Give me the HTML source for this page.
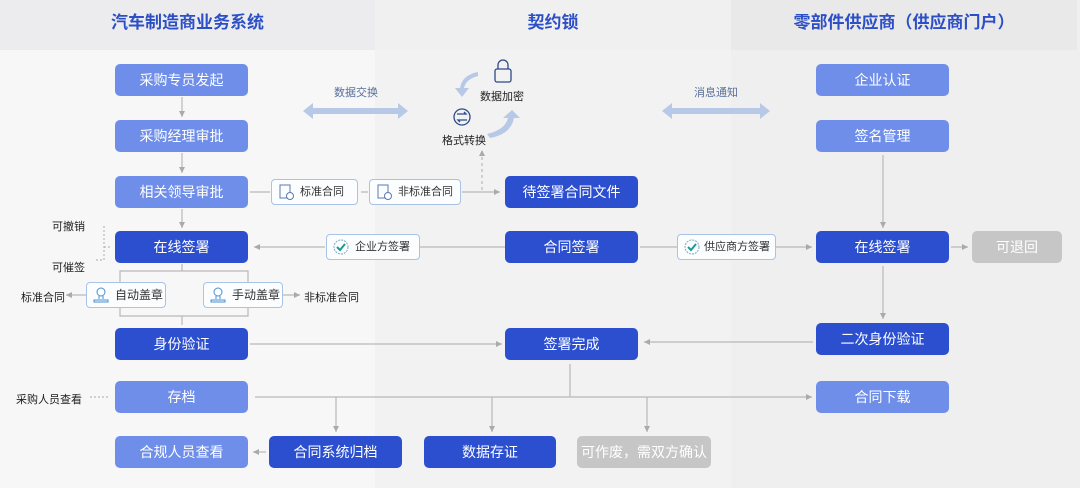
<!DOCTYPE html>
<html><head><meta charset="utf-8"><style>
*{margin:0;padding:0;box-sizing:border-box}
body{width:1080px;height:488px;position:relative;overflow:hidden;background:#f7f7f8;font-family:"Liberation Sans","Noto Sans CJK SC",sans-serif}
.col{position:absolute;top:0;height:488px}
.hd{position:absolute;top:0;height:50px;color:#2d4fc6;font-weight:bold;font-size:17px;text-align:center;line-height:46px}
.b{position:absolute;height:32px;border-radius:5px;color:#fff;font-size:14px;text-align:center;line-height:32px}
.l{background:#6e8eea}.d{background:#2c4fcf}.g{background:#c6c6c6}
.t{position:absolute;font-size:11px;color:#222;white-space:nowrap}
.tag{position:absolute;height:26px;border:1px solid #a9c3e6;border-radius:4px;background:#fbfdff;font-size:11px;color:#333;line-height:24px;padding-left:28px;white-space:nowrap}
.ic{position:absolute;left:6px;top:4px;width:16px;height:16px}
</style></head><body>
<div class="col" style="left:0;width:375px;background:#f7f7f8"></div>
<div class="col" style="left:375px;width:356px;background:#f2f2f3"></div>
<div class="col" style="left:731px;width:349px;background:#efeff0"></div>
<div class="hd" style="left:0;width:375px;background:#ececee">汽车制造商业务系统</div>
<div class="hd" style="left:375px;width:356px;background:#f0f0f1">契约锁</div>
<div class="hd" style="left:731px;width:346px;background:#e9e9ea">零部件供应商（供应商门户）</div>

<svg width="1080" height="488" style="position:absolute;left:0;top:0">
<defs><marker id="a" markerWidth="6" markerHeight="6" refX="5" refY="3" orient="auto"><path d="M0,0.5L5,3L0,5.5z" fill="#aaa"/></marker></defs>
<g stroke="#b8b8b8" stroke-width="1.2" fill="none">
<line x1="182" y1="97" x2="182" y2="117" marker-end="url(#a)"/>
<line x1="182" y1="153" x2="182" y2="173" marker-end="url(#a)"/>
<line x1="182" y1="209" x2="182" y2="228" marker-end="url(#a)"/>
<line x1="250" y1="192" x2="270" y2="192"/>
<line x1="361" y1="192" x2="368" y2="192"/>
<line x1="462" y1="192" x2="500" y2="192" marker-end="url(#a)"/>
<line x1="482" y1="190" x2="482" y2="150" stroke-dasharray="3,3" marker-end="url(#a)"/>
<line x1="325" y1="247" x2="254" y2="247" marker-end="url(#a)"/>
<line x1="420" y1="247" x2="505" y2="247"/>
<line x1="640" y1="247" x2="677" y2="247"/>
<line x1="776" y1="247" x2="812" y2="247" marker-end="url(#a)"/>
<line x1="951" y1="247" x2="968" y2="247" marker-end="url(#a)"/>
<line x1="883" y1="155" x2="883" y2="228" marker-end="url(#a)"/>
<line x1="883" y1="266" x2="883" y2="319" marker-end="url(#a)"/>
<line x1="813" y1="342" x2="644" y2="342" marker-end="url(#a)"/>
<line x1="250" y1="344" x2="502" y2="344" marker-end="url(#a)"/>
<line x1="182" y1="264" x2="182" y2="271"/>
<polyline points="120,283 120,271 248,271 248,283"/>
<polyline points="120,306 120,316 248,316 248,306"/>
<line x1="182" y1="316" x2="182" y2="325"/>
<line x1="86" y1="295" x2="66" y2="295" marker-end="url(#a)"/>
<line x1="283" y1="295" x2="300" y2="295" marker-end="url(#a)"/>
<polyline points="104,226 104,260 96,260" stroke-dasharray="2,2"/>
<line x1="104" y1="247" x2="112" y2="247" stroke-dasharray="2,2"/>
<line x1="90" y1="397" x2="110" y2="397" stroke-dasharray="2,2"/>
<line x1="255" y1="397" x2="812" y2="397" marker-end="url(#a)"/>
<line x1="570" y1="364" x2="570" y2="397"/>
<line x1="336" y1="397" x2="336" y2="432" marker-end="url(#a)"/>
<line x1="492" y1="397" x2="492" y2="432" marker-end="url(#a)"/>
<line x1="647" y1="397" x2="647" y2="432" marker-end="url(#a)"/>
<line x1="266" y1="452" x2="253" y2="452" marker-end="url(#a)"/>
</g>
<g fill="#b7c9e6">
<path d="M303,111 L313,103 L313,108 L398,108 L398,103 L408,111 L398,119 L398,114 L313,114 L313,119Z"/>
<path d="M662,111 L672,103 L672,108 L760,108 L760,103 L770,111 L760,119 L760,114 L672,114 L672,119Z"/>
<path d="M478,72 Q462,75 460,88 L455,88 L462,97 L469,88 L464,88 Q466,79 478,76Z"/>
<path d="M487,134 Q505,130 508,118 L503,118 L512,110 L520,118 L514,118 Q511,134 490,138Z"/>
</g>
<g fill="none" stroke="#2c4a86" stroke-width="1.3">
<rect x="495" y="69" width="16" height="13" rx="2"/>
<path d="M498,69 V65 a5,5 0 0 1 10,0 V69"/>
<circle cx="462" cy="117" r="8"/>
<path d="M457,114 h9 l-2,-2 M467,120 h-9 l2,2"/>
</g>
</svg>

<div class="t" style="left:334px;top:84px;color:#5a6f99">数据交换</div>
<div class="t" style="left:694px;top:84px;color:#5a6f99">消息通知</div>
<div class="t" style="left:480px;top:88px">数据加密</div>
<div class="t" style="left:442px;top:132px">格式转换</div>

<div class="b l" style="left:115px;top:64px;width:133px">采购专员发起</div>
<div class="b l" style="left:115px;top:120px;width:133px">采购经理审批</div>
<div class="b l" style="left:115px;top:176px;width:133px">相关领导审批</div>
<div class="b d" style="left:115px;top:231px;width:133px">在线签署</div>
<div class="b d" style="left:115px;top:328px;width:133px">身份验证</div>
<div class="b l" style="left:115px;top:381px;width:133px">存档</div>
<div class="b l" style="left:115px;top:436px;width:133px">合规人员查看</div>
<div class="b d" style="left:269px;top:436px;width:133px">合同系统归档</div>
<div class="b d" style="left:424px;top:436px;width:132px">数据存证</div>
<div class="b g" style="left:577px;top:436px;width:134px">可作废，需双方确认</div>
<div class="b d" style="left:505px;top:176px;width:133px">待签署合同文件</div>
<div class="b d" style="left:505px;top:231px;width:133px">合同签署</div>
<div class="b d" style="left:505px;top:328px;width:133px">签署完成</div>
<div class="b l" style="left:816px;top:64px;width:133px">企业认证</div>
<div class="b l" style="left:816px;top:120px;width:133px">签名管理</div>
<div class="b d" style="left:816px;top:231px;width:133px">在线签署</div>
<div class="b d" style="left:816px;top:323px;width:133px">二次身份验证</div>
<div class="b l" style="left:816px;top:381px;width:133px">合同下载</div>
<div class="b g" style="left:972px;top:231px;width:90px">可退回</div>

<div class="t" style="left:52px;top:218px">可撤销</div>
<div class="t" style="left:52px;top:259px">可催签</div>
<div class="t" style="left:21px;top:289px">标准合同</div>
<div class="t" style="left:304px;top:289px">非标准合同</div>
<div class="t" style="left:16px;top:391px">采购人员查看</div>

<div class="tag" style="left:271px;top:179px;width:87px"><svg class="ic"><rect x="2" y="1" width="10" height="13" fill="none" stroke="#5b7ab3"/><circle cx="12" cy="12" r="3.5" fill="#fff" stroke="#5b7ab3"/></svg>标准合同</div>
<div class="tag" style="left:369px;top:179px;width:92px"><svg class="ic"><rect x="2" y="1" width="10" height="13" fill="none" stroke="#5b7ab3"/><circle cx="12" cy="12" r="3.5" fill="#fff" stroke="#5b7ab3"/></svg>非标准合同</div>
<div class="tag" style="left:326px;top:234px;width:94px"><svg class="ic"><circle cx="8" cy="8" r="7" fill="none" stroke="#7ab" stroke-dasharray="2,1"/><path d="M4,8 L7,11 L12,5" stroke="#1a9a9a" stroke-width="2" fill="none"/></svg>企业方签署</div>
<div class="tag" style="left:677px;top:234px;width:99px;padding-left:26px"><svg class="ic"><circle cx="8" cy="8" r="7" fill="none" stroke="#7ab" stroke-dasharray="2,1"/><path d="M4,8 L7,11 L12,5" stroke="#1a9a9a" stroke-width="2" fill="none"/></svg>供应商方签署</div>
<div class="tag" style="left:86px;top:282px;width:80px;font-size:12px"><svg class="ic"><circle cx="8" cy="5" r="4" fill="none" stroke="#4a90d0"/><path d="M6,9 V12 M10,9 V12 M1,13 H15 V15 H1Z" stroke="#4a90d0" fill="none"/></svg>自动盖章</div>
<div class="tag" style="left:203px;top:282px;width:80px;font-size:12px"><svg class="ic"><circle cx="8" cy="5" r="4" fill="none" stroke="#4a90d0"/><path d="M6,9 V12 M10,9 V12 M1,13 H15 V15 H1Z" stroke="#4a90d0" fill="none"/></svg>手动盖章</div>
</body></html>
